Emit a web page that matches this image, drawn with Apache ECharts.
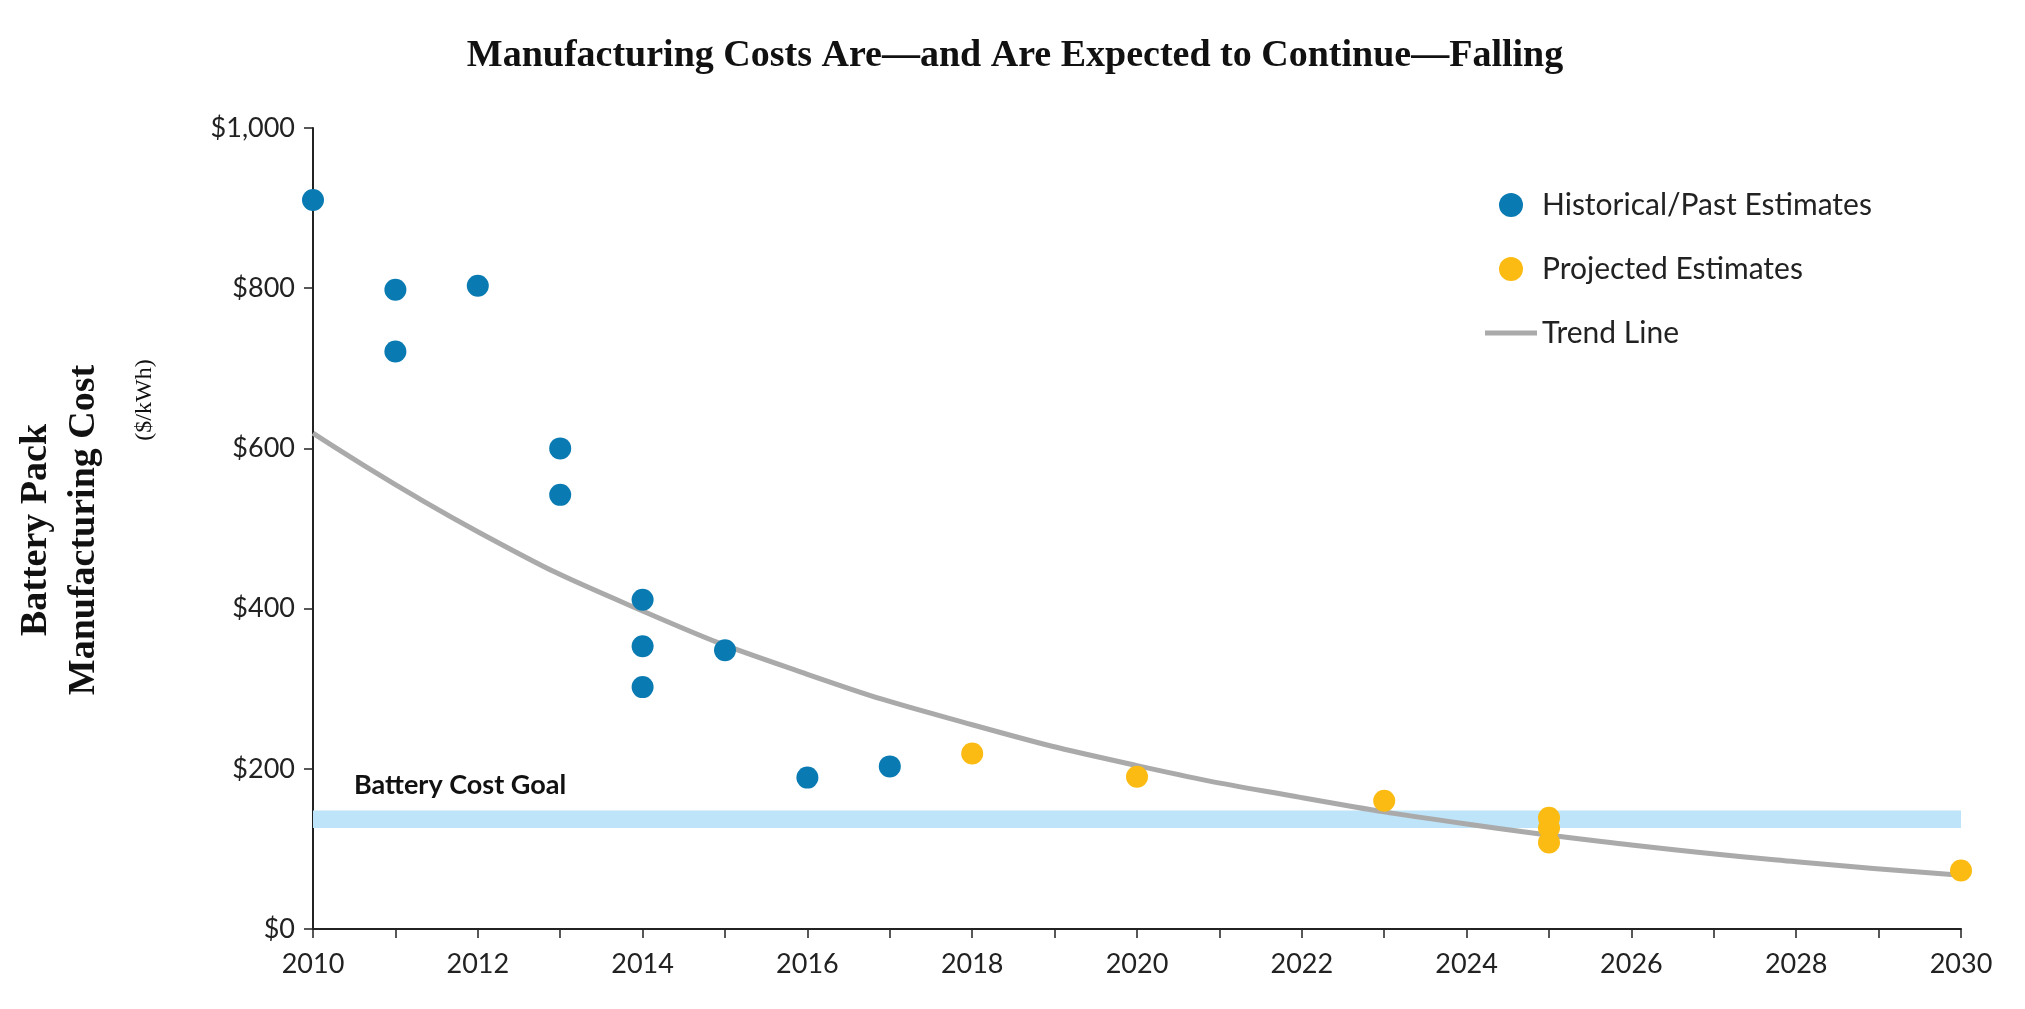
<!DOCTYPE html>
<html><head><meta charset="utf-8">
<script src="https://cdn.jsdelivr.net/npm/echarts@6/dist/echarts.min.js"></script>
<style>html,body{margin:0;background:#fff}#c{width:2025px;height:1009px}</style>
</head><body><div id="c"></div>
<script>
var historical = [[2010,910],[2011,798],[2011,721],[2012,803],[2013,600],[2013,542],[2014,411],[2014,353],[2014,302],[2015,348],[2016,189],[2017,203]];
var projected = [[2018,219],[2020,190],[2023,160],[2025,139],[2025,126],[2025,108],[2030,73]];
var trend = [[2010,619],[2012,496],[2014,397],[2016,318],[2018,255],[2020,204],[2022,164],[2024,131],[2026,105],[2028,84],[2030,67]];
var goalLow = 126, goalHigh = 148;

var chart = echarts.init(document.getElementById('c'));
var axisFont = {fontFamily: 'Lato', fontSize: 27, color: '#222'};
chart.setOption({
  title: {
    text: 'Manufacturing Costs Are\u2014and Are Expected to Continue\u2014Falling',
    left: 'center', top: 32, left: 1010, textAlign: 'center',
    textStyle: {fontFamily: 'Liberation Serif', fontWeight: 'bold', fontSize: 38, color: '#111'}
  },
  legend: {
    orient: 'vertical', left: 1480, top: 185, itemGap: 34, itemWidth: 52, itemHeight: 24,
    textStyle: {fontFamily: 'Lato', fontSize: 30, color: '#222'},
    data: [{name: 'Historical/Past Estimates', icon: 'circle'},
           {name: 'Projected Estimates', icon: 'circle'},
           {name: 'Trend Line', icon: 'path://M0,0 L10,0 L10,1 L0,1 Z'}]
  },
  grid: {left: 313, right: 64, top: 128, bottom: 80},
  xAxis: {
    type: 'value', min: 2010, max: 2030, interval: 1,
    axisLine: {lineStyle: {color: '#222', width: 2}},
    axisTick: {lineStyle: {color: '#222', width: 1.5}, length: 9},
    splitLine: {show: false},
    axisLabel: Object.assign({margin: 22, formatter: function (v) { return v % 2 === 0 ? v : ''; }}, axisFont)
  },
  yAxis: {
    type: 'value', min: 0, max: 1000, interval: 200,
    axisLine: {show: true, lineStyle: {color: '#222', width: 2}},
    axisTick: {show: true, lineStyle: {color: '#222', width: 1.5}, length: 9},
    splitLine: {show: false},
    axisLabel: Object.assign({margin: 18, formatter: function (v) { return '$' + v.toLocaleString('en-US'); }}, axisFont)
  },
  graphic: [
    {type: 'text', x: 60, y: 530, rotation: Math.PI / 2, style: {
      text: 'Battery Pack\nManufacturing Cost', align: 'center', verticalAlign: 'middle',
      font: 'bold 38px "Liberation Serif"', fill: '#111', lineHeight: 48}},
    {type: 'text', x: 145, y: 400, rotation: Math.PI / 2, style: {
      text: '($/kWh)', align: 'center', verticalAlign: 'middle',
      font: '24px "Liberation Serif"', fill: '#111'}}
  ],
  series: [
    {
      name: 'Trend Line', type: 'line', data: trend, smooth: true, symbol: 'none',
      lineStyle: {color: '#aaaaaa', width: 5}, itemStyle: {color: '#aaaaaa'}, z: 3,
      markArea: {
        silent: true,
        itemStyle: {color: '#bde4f8'},
        label: {show: true, position: 'insideTopLeft', offset: [36, -44],
          fontFamily: 'Lato', fontSize: 27, color: '#111', fontWeight: 'bold'},
        data: [[{name: 'Battery Cost Goal', xAxis: 2010, yAxis: goalLow}, {xAxis: 2030, yAxis: goalHigh}]]
      }
    },
    {name: 'Historical/Past Estimates', type: 'scatter', data: historical, symbolSize: 22,
      itemStyle: {color: '#0a7bb2', opacity: 1}, z: 5},
    {name: 'Projected Estimates', type: 'scatter', data: projected, symbolSize: 22,
      itemStyle: {color: '#fbbb12', opacity: 1}, z: 5}
  ]
});
</script></body></html>
